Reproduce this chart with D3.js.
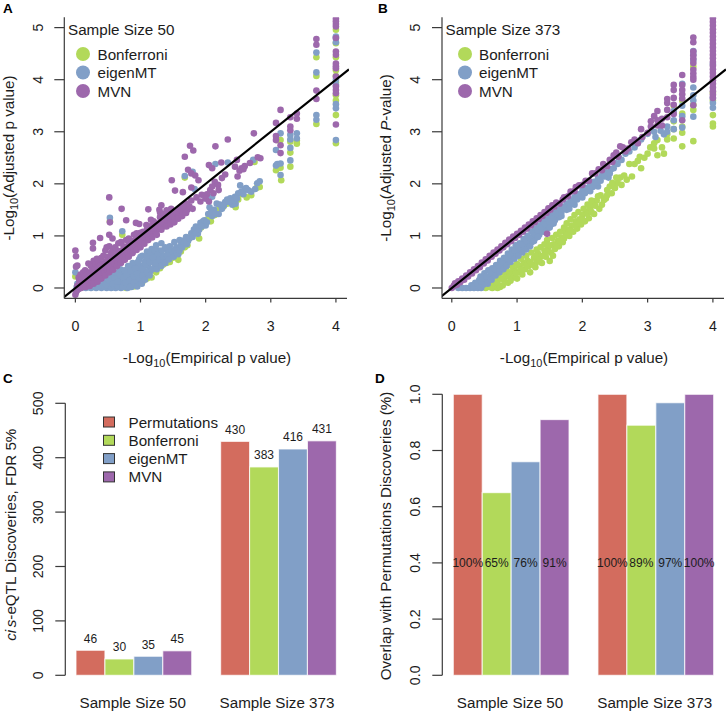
<!DOCTYPE html>
<html><head><meta charset="utf-8">
<script src="https://cdn.jsdelivr.net/npm/d3@7"></script>
<style>
html,body{margin:0;padding:0;background:#fff}
svg{display:block}
text{font-family:"Liberation Sans",Arial,sans-serif;fill:#1c1c1c}
</style></head><body><svg id="c" width="726" height="713"></svg>
<script>
const methods=["Permutations","Bonferroni","eigenMT","MVN"];
const colors=["#D36C5E","#B2D95A","#819FC7","#9D68AC"];
const sampleLabels=["Sample Size 50","Sample Size 373"];
const discoveries50=[46,30,35,45];
const discoveries373=[430,383,416,431];
const overlap50=[1,0.65,0.76,0.91];
const overlap373=[1,0.89,0.97,1];
const overlapLabels50=["100%","65%","76%","91%"];
const overlapLabels373=["100%","89%","97%","100%"];
const scatterTicksX=[0,1,2,3,4];
const scatterTicksY=[0,1,2,3,4,5];
const countTicks=[0,100,200,300,400,500];
const fractionTicks=[0,0.2,0.4,0.6,0.8,1];

const aBonferroni=[[.78,0],[.82,.02],[.9,.03],[.93,.08],[.97,.1],[1,.2],[1.03,.12],[1.08,.28],[1.1,.18],[1.17,.2],[1.2,.34],[1.24,.3],[1.3,.38],[1.35,.45],[1.4,.48],[1.45,.5],[1.5,.58],[1.55,.72],[1.58,.54],[1.62,.7],[1.68,.78],[1.72,.82],[1.77,.98],[1.85,1.1],[1.9,.95],[1.93,1.16],[1.98,1.22],[2.03,1.32],[2.08,1.28],[2.14,1.4],[2.2,1.5],[2.27,1.56],[2.33,1.62],[2.4,1.66],[2.46,1.55],[2.5,1.7],[2.56,1.8],[2.63,1.74],[2.7,1.78],[2.78,1.92],[2.83,1.94],[2.75,2.42],[1.68,2.12],[.53,1.28],[.72,1.02],[.0,.22],[3.08,2.26],[3.1,2.3],[3.15,2.84],[3.16,2.07],[3.1,2.84],[3.15,2.31],[3.3,2.33],[3.3,2.6],[3.3,2.81],[3.4,2.77],[3.4,2.83],[3.7,3.15],[3.7,4.07],[3.7,4.43],[4,2.78],[4,3.32],[4,3.7],[4,4.07],[4,4.18],[4,4.43],[4,4.7],[4,4.96],[4,3.95],[4,3.6]];
const aEigenMT=[[0,.3],[.02,.02],[.03,.08],[.08,.03],[.12,.05],[.16,0],[.2,.02],[.24,0],[.28,.04],[.32,0],[.36,.07],[.4,0],[.44,.03],[.48,0],[.5,.1],[.52,.05],[.55,0],[.58,.14],[.6,.05],[.62,0],[.65,.18],[.66,.08],[.7,0],[.7,.22],[.72,.13],[.74,.05],[.76,.28],[.78,.18],[.8,0],[.8,.36],[.82,.08],[.84,.24],[.86,.02],[.87,.4],[.88,.14],[.9,.3],[.91,.06],[.93,.46],[.94,.2],[.95,.36],[.97,.12],[.98,.55],[1,.28],[1,.42],[1.01,.18],[1.03,.62],[1.05,.34],[1.06,.5],[1.08,.26],[1.1,.7],[1.12,.42],[1.13,.58],[1.15,.32],[1.17,.75],[1.18,.5],[1.2,.65],[1.22,.4],[1.24,.82],[1.26,.56],[1.28,.72],[1.3,.46],[1.32,.86],[1.34,.62],[1.36,.52],[1.4,.55],[1.42,.7],[1.46,.62],[1.5,.68],[1.52,.88],[1.55,.78],[1.58,.65],[1.6,.92],[1.62,.82],[1.66,.88],[1.7,.98],[1.73,.9],[1.78,1.05],[1.82,1.12],[1.85,1.18],[1.88,1.04],[1.92,1.25],[1.96,1.28],[2,1.2],[2.04,1.42],[2.06,1.55],[2.1,1.38],[2.13,1.5],[2.17,1.62],[2.2,1.42],[2.25,1.52],[2.3,1.65],[2.33,1.7],[2.38,1.72],[2.41,1.6],[2.45,1.75],[2.46,1.62],[2.5,1.82],[2.53,1.97],[2.55,1.85],[2.6,1.9],[2.65,1.88],[2.7,1.85],[2.79,2.01],[2.83,2.05],[1.68,2.15],[1.8,2.23],[1.83,1.9],[2.15,2.38],[2.34,2.41],[2.73,2.46],[.53,1.35],[.72,1.09],[2.0,1.72],[2.1,1.75],[3.08,2.35],[3.08,2.65],[3.1,2.38],[3.15,2.97],[3.15,2.39],[3.15,2.17],[3.3,2.45],[3.3,2.69],[3.3,2.85],[3.3,2.94],[3.4,2.87],[3.4,2.97],[3.7,3.23],[3.7,3.32],[3.7,4.14],[3.7,4.52],[4,2.84],[4,3.45],[4,3.53],[4,4],[4,4.8],[4,4.83],[4,4.72],[4,3.9],
[.26,.1],[.31,.14],[.35,.03],[.38,.17],[.42,.1],[.46,.19],[.47,.06],[.52,.15],[.54,.24],[.57,.08],[.6,.2],[.61,.3],[.65,.03],[.65,.12],[.68,.27],[.69,.36],[.73,.02],[.74,.2],[.75,.34],[.77,.1],[.79,.25],[.81,.42],[.84,.02],[.84,.15],[.85,.32],[.88,.48],[.9,.1],[.9,.22],[.92,.38],[.95,.03],[.95,.27],[.96,.5],[.98,.18],[1,.6],[1.02,.08],[1.03,.24],[1.04,.38],[1.07,.16],[1.08,.45],[1.09,.6],[1.11,.3],[1.14,.24],[1.14,.5],[1.15,.68],[1.18,.36],[1.19,.58],[1.22,.72],[1.23,.48],[1.25,.36],[1.27,.65],[1.29,.55],[1.32,.42],[1.33,.72],[1.35,.6],[1.38,.48],[1.38,.78],[1.41,.62],[1.44,.55],[1.45,.8],[1.48,.72],[1.51,.6],[1.53,.72],[1.56,.66],[1.6,.72],[1.64,.78],[1.68,.92],[1.71,.84],[1.75,.95],[1.8,.98],[1.85,1.05],[1.9,1.12],[1.94,1.18],[1.98,1.3],[2.02,1.26],[2.08,1.45],[2.15,1.42],[2.22,1.6],[2.28,1.58],[2.36,1.65],[2.43,1.68],[2.48,1.72],[2.58,1.8],[2.62,1.92],[2.76,1.9]];
const aMVN=[[0,-.13],[.01,-.08],[.03,-.04],[.03,.04],[.05,-.02],[.07,.06],[.09,.0],[.11,.09],[.13,.03],[.15,.11],[.17,.05],[.19,.15],[.21,.08],[.23,.18],[.25,.11],[.27,.2],[.29,.14],[.31,.24],[.33,.17],[.35,.27],[.37,.22],[.39,.31],[.41,.26],[.43,.34],[.45,.29],[.47,.38],[.49,.33],[.51,.43],[.53,.37],[.55,.46],[.57,.41],[.59,.5],[.61,.45],[.63,.53],[.65,.49],[.67,.58],[.69,.53],[.71,.62],[.73,.57],[.75,.66],[.77,.61],[.79,.7],[.81,.66],[.83,.74],[.85,.7],[.87,.79],[.89,.75],[.91,.83],[.93,.79],[.95,.87],[.97,.83],[.99,.92],[1.01,.87],[1.03,.96],[1.05,.92],[1.07,1.0],[1.09,.96],[1.11,1.04],[1.13,1],[1.15,1.08],[1.18,1.03],[1.2,1.12],[1.23,1.08],[1.26,1.17],[1.29,1.13],[1.32,1.22],[1.35,1.18],[1.38,1.28],[1.41,1.24],[1.44,1.33],[1.47,1.29],[1.5,1.38],[1.53,1.34],[1.56,1.44],[1.59,1.4],[1.62,1.48],[1.65,1.45],[1.68,1.54],[1.72,1.5],[1.75,1.57],
[0,.72],[.01,.61],[.03,.43],[.01,.41],[.05,.2],[.08,.26],[.12,.3],[.15,.34],[.19,.3],[.2,.47],[.24,.42],[.27,.87],[.27,.76],[.28,.52],[.31,.46],[.33,.56],[.36,.48],[.38,.96],[.4,.58],[.43,.62],[.46,.72],[.48,.78],[.5,.6],[.52,1.02],[.52,.8],[.55,.68],[.57,.95],[.58,.74],[.61,.78],[.64,.72],[.66,.86],[.7,.88],[.74,.8],[.78,.92],[.82,.95],[.86,.9],[.9,1.02],[.94,1.05],[.98,.98],[1,1.06],[1.04,1.08],[1.1,1.12],[1.14,1.18],[1.18,1.2],[1.24,1.24],[1.3,1.36],[1.36,1.42],[1.42,1.47],
[.52,1.74],[.71,1.52],[.53,1.26],[.78,1.3],[.93,1.25],[.98,1.23],[1.09,1.21],[1.16,1.31],[1.12,1.51],[1.29,1.5],[1.32,1.59],[1.4,1.49],[1.2,1.28],[1.48,2.07],[1.53,1.87],[1.68,2.52],[1.76,2.73],[1.81,2.64],[1.73,2.27],[1.65,1.84],[1.78,2.2],[1.84,2.16],[1.89,2.07],[1.78,1.93],[2.05,2.36],[2.1,2.3],[2.15,2.72],[2.34,2.85],[2.74,2.97],[2.24,2.41],[2.48,2.46],[2.8,2.51],[2.84,2.49],[2.45,2.33],[2.55,2.3],[2.6,2.34],[2.68,2.4],[2.49,2.14],[2.52,2.25],[2.58,2.28],[2.25,2.11],[2.3,2.18],[2.14,2.04],[2.19,1.98],[2.07,1.88],[2.02,1.8],[2.1,1.95],[1.94,1.79],[1.86,1.74],[1.78,1.68],[1.7,1.62],[1.65,1.56],[1.47,1.52],[1.3,1.45],
[3.08,3.17],[3.08,2.92],[3.08,2.84],[3.15,3.42],[3.15,2.74],[3.15,2.59],[3.3,3.28],[3.3,3.1],[3.3,3.03],[3.4,3.35],[3.4,3.25],[3.7,4.78],[3.7,4.67],[3.7,3.79],[3.7,3.63],[4,5.17],[4,5.12],[4,5.07],[4,5.02],[4,4.8],[4,4.54],[4,4.48],[4,4.31],[4,4.26],[4,4.22],[4,4.06],[4,3.87],[4,3.8],[4,3.74],[4,3.14],
[.06,.13],[.1,.17],[.14,.2],[.17,.24],[.22,.28],[.26,.33],[.3,.36],[.34,.4],[.38,.43],[.42,.46],[.46,.5],[.5,.53],[.54,.56],[.58,.6],[.62,.63],[.66,.67],[.7,.71],[.74,.74],[.78,.78],[.82,.82],[.86,.85],[.9,.9],[.94,.93],[.98,.96],[1.02,1],[1.06,1.03],[1.1,1.07],[1.14,1.1],[1.18,1.14],[1.22,1.17],[1.27,1.21],[1.32,1.27],[1.36,1.31],[1.42,1.36],[1.48,1.41],[1.54,1.47],[1.6,1.52],[1.66,1.58],
[.16,.02],[.22,.04],[.28,.08],[.34,.12],[.4,.18],[.46,.24],[.52,.3],[.58,.35],[.64,.42],[.7,.48],[.76,.54],[.82,.6],[.88,.67],[.94,.73],[1,.78],[1.06,.85],[1.12,.92],[1.18,.97],[1.25,1.02],[1.32,1.12],[1.4,1.18],[1.46,1.22],[1.52,1.26],[1.58,1.33],[1.64,1.38],[1.7,1.44],[1.8,1.52],[1.92,1.66],[2,1.72],[2.05,1.66],[2.12,1.82],[2.2,1.88]];

const bBonferroni=[[.52,0],[.58,.02],[.62,0],[.66,.05],[.7,0],[.74,.02],[.58,.08],[.64,.14],[.7,.1],[.72,.2],[.78,.05],[.8,.16],[.82,.26],[.86,.1],[.88,.22],[.9,.3],[.94,.2],[.96,.36],[1,.18],[1.02,.3],[1.04,.42],[1.08,.26],[1.1,.48],[1.12,.36],[1.16,.52],[1.18,.42],[1.2,.3],[1.24,.45],[1.26,.58],[1.3,.5],[1.32,.66],[1.36,.6],[1.38,.48],[1.42,.72],[1.44,.6],[1.48,.78],[1.5,.52],[1.52,.68],[1.56,.84],[1.58,.75],[1.62,.9],[1.64,.8],[1.68,.97],[1.7,.88],[1.74,1.06],[1.72,.95],[1.78,1.12],[1.8,1.0],[1.84,1.2],[1.86,1.08],[1.9,1.28],[1.92,1.14],[1.96,1.32],[1.98,1.22],[2,1.4],[2.04,1.28],[2.06,1.46],[2.1,1.34],[2.12,1.52],[2.16,1.6],[2.18,1.42],[2.22,1.68],[2.26,1.52],[2.3,1.6],[2.33,1.69],[2.28,1.78],[2.38,1.88],[2.42,1.95],[2.45,1.82],[2.5,1.92],[2.54,2.02],[2.58,2.12],[2.6,1.98],[2.64,2.16],[2.68,2.08],[2.72,2.38],[2.76,2.14],[2.8,2.38],[2.85,2.44],[2.88,2.52],[2.9,2.3],[2.95,2.5],[3,2.58],[3.04,2.7],[3.1,2.68],[3.1,2.78],[3.15,2.84],[3.15,2.55],[3.22,2.7],[3.25,2.58],[3.3,2.85],[3.3,2.95],[3.4,2.87],[3.4,3.05],[3.4,3.2],[3.4,3.5],[3.53,2.72],[3.53,2.98],[3.53,3.1],[3.53,3.6],[3.7,2.82],[3.7,3.42],[3.7,3.52],[4,3.1],[4,3.16],[4,3.32],[4,3.6],[4,3.75],[3.7,4.25],[3.53,3.35],
[.6,.02],[.68,.12],[.75,.18],[.76,.3],[.84,.34],[.9,.14],[.92,.42],[.98,.28],[1,.46],[1.06,.36],[1.06,.56],[1.14,.44],[1.14,.62],[1.2,.5],[1.22,.68],[1.28,.4],[1.28,.62],[1.3,.74],[1.34,.54],[1.36,.78],[1.4,.62],[1.42,.84],[1.46,.7],[1.46,.92],[1.5,.82],[1.54,.96],[1.55,.62],[1.6,1.02],[1.6,.82],[1.66,1.08],[1.66,.9],[1.72,1.16],[1.76,1.02],[1.76,1.24],[1.82,1.1],[1.82,1.32],[1.88,1.2],[1.88,1.4],[1.94,1.24],[1.94,1.46],[2,1.32],[2.02,1.52],[2.08,1.42],[2.08,1.6],[2.14,1.46],[2.14,1.68],[2.2,1.58],[2.24,1.76],[2.36,1.72],[2.38,1.78],[2.46,2.02],[2.52,2.12]];
const bEigenMT=[[.1,0],[.16,0],[.22,0],[.28,0],[.34,0],[.4,0],[.45,0],[.3,.05],[.36,.1],[.42,.15],[.48,.06],[.44,.22],[.5,.28],[.52,.14],[.56,.34],[.58,.22],[.62,.38],[.64,.28],[.68,.44],[.7,.34],[.74,.52],[.76,.4],[.8,.58],[.8,.46],[.86,.66],[.86,.52],[.92,.74],[.92,.58],[.98,.82],[.98,.64],[1.04,.86],[1.04,.7],[1.1,.94],[1.1,.76],[1.16,1],[1.16,.82],[1.22,1.08],[1.22,.88],[1.28,1.14],[1.28,.96],[1.34,1.2],[1.34,1.02],[1.4,1.26],[1.4,1.08],[1.46,1.32],[1.46,1.14],[1.52,1.38],[1.52,1.22],[1.58,1.44],[1.58,1.3],[1.64,1.5],[1.64,1.36],[1.7,1.56],[1.76,1.62],[1.76,1.5],[1.82,1.68],[1.88,1.74],[1.88,1.6],[1.94,1.8],[2,1.86],[2,1.74],[2.06,1.92],[2.12,1.98],[2.12,1.86],[2.18,2.04],[2.24,2.1],[2.24,1.95],[2.3,2.16],[2.36,2.22],[2.4,2.12],[2.44,2.28],[2.5,2.4],[2.56,2.5],[2.6,2.46],[2.66,2.58],[2.72,2.62],[2.8,2.7],[2.85,2.78],[2.9,2.85],[3,2.96],[3.1,3],[3.12,2.9],[3.2,3.02],[3.25,2.95],[3.3,3.1],[3.3,3],[3.4,3.22],[3.4,3.05],[3.4,3.4],[3.53,3.08],[3.53,3.3],[3.53,3.5],[3.53,3.92],[3.7,3.29],[3.7,3.6],[3.7,3.7],[3.7,3.85],[3.7,4.38],[3.7,4.48],[3.7,4.55],[4,3.46],[4,3.55],[4,3.65],[4,4.3],
[.33,.03],[.39,.08],[.45,.12],[.47,.18],[.53,.22],[.55,.08],[.6,.3],[.61,.16],[.66,.36],[.67,.24],[.72,.43],[.73,.3],[.78,.5],[.79,.36],[.84,.57],[.84,.42],[.9,.64],[.9,.5],[.96,.72],[.96,.56],[1.02,.78],[1.02,.62],[1.08,.84],[1.08,.68],[1.14,.9],[1.14,.74],[1.2,.96],[1.2,.8],[1.26,1.04],[1.26,.9],[1.32,1.1],[1.32,.98],[1.38,1.16],[1.44,1.22],[1.44,1.08],[1.5,1.28],[1.5,1.16],[1.56,1.34],[1.56,1.24],[1.62,1.42],[1.68,1.46],[1.68,1.38],[1.74,1.54],[1.8,1.6],[1.8,1.52],[1.86,1.66],[1.92,1.7],[1.98,1.78],[2.04,1.82],[2.1,1.9],[2.16,1.94],[2.22,2.02],[2.28,2.06],[2.34,2.14],[2.42,2.2],[2.48,2.3],[2.54,2.38]];
const bMVN=[[.0,0],[.03,.04],[.05,.09],[.08,.06],[.1,.13],[.13,.11],[.16,.18],[.19,.16],[.22,.24],[.25,.22],[.28,.3],[.31,.28],[.34,.36],[.37,.34],[.4,.42],[.43,.4],[.46,.49],[.49,.47],[.52,.55],[.55,.53],[.58,.62],[.61,.6],[.64,.68],[.67,.66],[.7,.74],[.73,.72],[.76,.8],[.79,.78],[.82,.87],[.85,.84],[.88,.93],[.91,.9],[.94,.99],[.97,.96],[1,1.04],[1.03,1.02],[1.06,1.1],[1.09,1.08],[1.12,1.16],[1.15,1.14],[1.18,1.22],[1.21,1.2],[1.24,1.28],[1.27,1.26],[1.3,1.34],[1.33,1.32],[1.36,1.4],[1.39,1.38],[1.42,1.46],[1.45,1.44],[1.48,1.53],[1.51,1.5],[1.54,1.59],[1.57,1.56],[1.6,1.64],[1.65,1.62],[1.7,1.7],[1.72,1.74],[1.78,1.76],[1.82,1.85],[1.88,1.86],[1.9,1.94],[1.95,1.97],[2,1.98],[2.05,2.06],[2.1,2.06],[2.15,2.2],[2.2,2.2],[2.25,2.28],[2.3,2.26],[2.32,2.38],[2.38,2.34],[2.42,2.46],[2.46,2.42],[2.48,2.55],[2.52,2.6],[2.55,2.52],[2.58,2.72],[2.62,2.7],[2.66,2.62],[2.7,2.68],[2.75,2.8],[2.8,2.85],[2.85,2.78],[2.9,3.05],[2.92,2.9],[3,2.98],[3.05,3.2],[3.05,3.1],[3.1,3.3],[3.15,3.4],[3.15,3.22],[3.15,3.12],[3.22,3.25],[3.22,3.12],[3.3,3.63],[3.3,3.55],[3.3,3.42],[3.3,3.28],[3.4,3.9],[3.4,3.8],[3.4,3.65],[3.4,3.52],[3.4,3.34],[3.53,4.09],[3.53,3.9],[3.53,3.8],[3.53,3.72],[3.53,3.64],[3.53,3.22],[1.46,1.04],[3.7,4.81],[3.7,4.72],[3.7,4.54],[3.7,4.47],[3.7,4.4],[3.7,4.32],[3.7,4.19],[3.7,4.12],[3.7,4.05],[3.7,4],[3.7,3.51],[4,5.18],[4,5.11],[4,5.04],[4,4.97],[4,4.9],[4,4.83],[4,4.76],[4,4.69],[4,4.62],[4,4.55],[4,4.48],[4,4.41],[4,4.34],[4,4.27],[4,4.2],[4,4.13],[4,4.06],[4,3.99],[4,3.92],[4,3.85],[4,3.78],[4,3.71],[4,3.65]];

const svg=d3.select("#c");
const axisColor="#3a3a3a";
const tickFont=14.2, labelFont=15.2;

function panelLetter(s,x,y){svg.append("text").attr("x",x).attr("y",y).attr("font-size",13.5).attr("font-weight","bold").style("fill","#000").text(s);}

function line(x1,y1,x2,y2,w){svg.append("line").attr("x1",x1).attr("y1",y1).attr("x2",x2).attr("y2",y2).attr("stroke",axisColor).attr("stroke-width",w||1.2);}

function yAxis(y,ticks,axisX,labelX,fmt,x0,x1){
  if(x0!==undefined) line(axisX,x0,axisX,x1); else line(axisX,y(ticks[0]),axisX,y(ticks[ticks.length-1]));
  ticks.forEach(t=>{line(axisX-10,y(t),axisX,y(t));
    svg.append("text").attr("transform",`translate(${labelX},${y(t)}) rotate(-90)`).attr("text-anchor","middle").attr("font-size",tickFont).text(fmt(t));});
}

function rotLabel(x,y,parts){
  const t=svg.append("text").attr("transform",`translate(${x},${y}) rotate(-90)`).attr("text-anchor","middle").attr("font-size",labelFont);
  addParts(t,parts);
}
function addParts(t,parts){
  parts.forEach(p=>{
    const s=t.append("tspan").text(p.t);
    if(p.i) s.attr("font-style","italic");
    if(p.sub) s.attr("font-size",labelFont*.72).attr("dy",3.5);
    if(p.up) s.attr("dy",-3.5);
    if(p.dx) s.attr("dx",p.dx);
  });
}

function scatter(o){
  const x=d3.scaleLinear().domain(o.xd).range(o.xr);
  const y=d3.scaleLinear().domain([-0.2,5.2]).range([298.4,17.2]);
  const id="clip"+o.name;
  svg.append("clipPath").attr("id",id).append("rect").attr("x",o.xr[0]).attr("y",17.2).attr("width",o.xr[1]-o.xr[0]+2).attr("height",281.2);
  const g=svg.append("g").attr("clip-path",`url(#${id})`);
  o.series.forEach((d,i)=>{
    g.append("g").selectAll("circle").data(d).join("circle")
      .attr("cx",p=>x(p[0])).attr("cy",p=>y(p[1])).attr("r",3.3).attr("fill",colors[i+1]);
  });
  g.append("line").attr("x1",x(-0.2)).attr("y1",y(-0.2)).attr("x2",x(4.2)).attr("y2",y(4.2)).attr("stroke","#000").attr("stroke-width",2.2);
  yAxis(y,scatterTicksY,o.xr[0],o.tickX,d=>d,17.2,298.4);
  line(o.xr[0],298.4,o.xr[1],298.4);
  scatterTicksX.forEach(t=>{line(x(t),298.4,x(t),302.5);
    svg.append("text").attr("x",x(t)).attr("y",331).attr("text-anchor","middle").attr("font-size",tickFont).text(t);});
  const xl=svg.append("text").attr("x",o.xlabX).attr("y",363).attr("text-anchor","middle").attr("font-size",labelFont);
  addParts(xl,[{t:"-Log"},{t:"10",sub:1},{t:"(Empirical p value)",up:1}]);
  rotLabel(o.ylabX,o.ylabY,o.ylab);
  svg.append("text").attr("x",o.titleX).attr("y",35).attr("font-size",labelFont).text(o.title);
  [1,2,3].forEach((m,i)=>{
    const yy=54+i*18.5;
    svg.append("circle").attr("cx",o.legC).attr("cy",yy).attr("r",7).attr("fill",colors[m]);
    svg.append("text").attr("x",o.legT).attr("y",yy+5.5).attr("font-size",labelFont).text(methods[m]);
  });
}

scatter({name:"A",xd:[-0.17,4.17],xr:[64.3,347],tickX:43,series:[aBonferroni,aEigenMT,aMVN],xlabX:207,ylabX:14,ylabY:158,
  ylab:[{t:"-Log"},{t:"10",sub:1},{t:"(Adjusted p value)",up:1}],title:sampleLabels[0],titleX:68,legC:83,legT:97.5});
scatter({name:"B",xd:[-0.15,4.17],xr:[442,724],tickX:420,series:[bBonferroni,bEigenMT,bMVN],xlabX:584,ylabX:391,ylabY:158,
  ylab:[{t:"-Log"},{t:"10",sub:1},{t:"(Adjusted ",up:1},{t:"P",i:1},{t:"-value)"}],title:sampleLabels[1],titleX:445.5,legC:465,legT:479});

function bars(o){
  const y=d3.scaleLinear().domain(o.yd).range([675.3,o.top]);
  const x=d3.scaleLinear().domain([0,9]).range([o.x0,o.x0+9*28.93]);
  [o.d1,o.d2].forEach((d,gi)=>{
    const off=gi*5;
    svg.append("g").selectAll("rect").data(d).join("rect")
      .attr("x",(v,i)=>x(off+i)).attr("y",v=>y(v)).attr("width",x(1)-x(0)).attr("height",v=>y(0)-y(v))
      .attr("fill",(v,i)=>colors[i]).attr("stroke","#fff").attr("stroke-opacity",.75).attr("stroke-width",1.1);
    o.lab(x,y,d,off,gi);
    svg.append("text").attr("x",o.grp[gi]).attr("y",708).attr("text-anchor","middle").attr("font-size",labelFont).text(sampleLabels[gi]);
  });
  yAxis(y,o.ticks,o.axisX,o.tickX,o.fmt);
}
bars({yd:[0,500],top:403.3,x0:76,d1:discoveries50,d2:discoveries373,ticks:countTicks,axisX:65.3,tickX:43,fmt:d=>d,grp:[132.7,277],
  lab:(x,y,d,off)=>{d.forEach((v,i)=>svg.append("text").attr("x",x(off+i+.5)).attr("y",y(v)-7.5).attr("text-anchor","middle").attr("font-size",12).text(v));}});
bars({yd:[0,1],top:394.3,x0:453.3,d1:overlap50,d2:overlap373,ticks:fractionTicks,axisX:442.3,tickX:420,fmt:d=>d3.format(".1f")(d),grp:[510,654.7],
  lab:(x,y,d,off,gi)=>{const L=gi?overlapLabels373:overlapLabels50;d.forEach((v,i)=>svg.append("text").attr("x",x(off+i+.5)).attr("y",y(.4)+4.3).attr("text-anchor","middle").attr("font-size",12).text(L[i]));}});

rotLabel(15.5,534.7,[{t:"ci",i:1},{t:"s",i:1,dx:2.5},{t:"-eQTL Discoveries, FDR 5%"}]);
rotLabel(391,536,[{t:"Overlap with Permutations Discoveries (%)"}]);

methods.forEach((m,i)=>{
  const yy=422+i*18.3;
  svg.append("rect").attr("x",103.5).attr("y",yy-5).attr("width",11).attr("height",10).attr("fill",colors[i]).attr("stroke","#333").attr("stroke-width",1);
  svg.append("text").attr("x",128.5).attr("y",yy+5.5).attr("font-size",labelFont).text(m);
});

panelLetter("A",3,12.5);panelLetter("B",378,12.5);panelLetter("C",3,383);panelLetter("D",375,383);
</script></body></html>
